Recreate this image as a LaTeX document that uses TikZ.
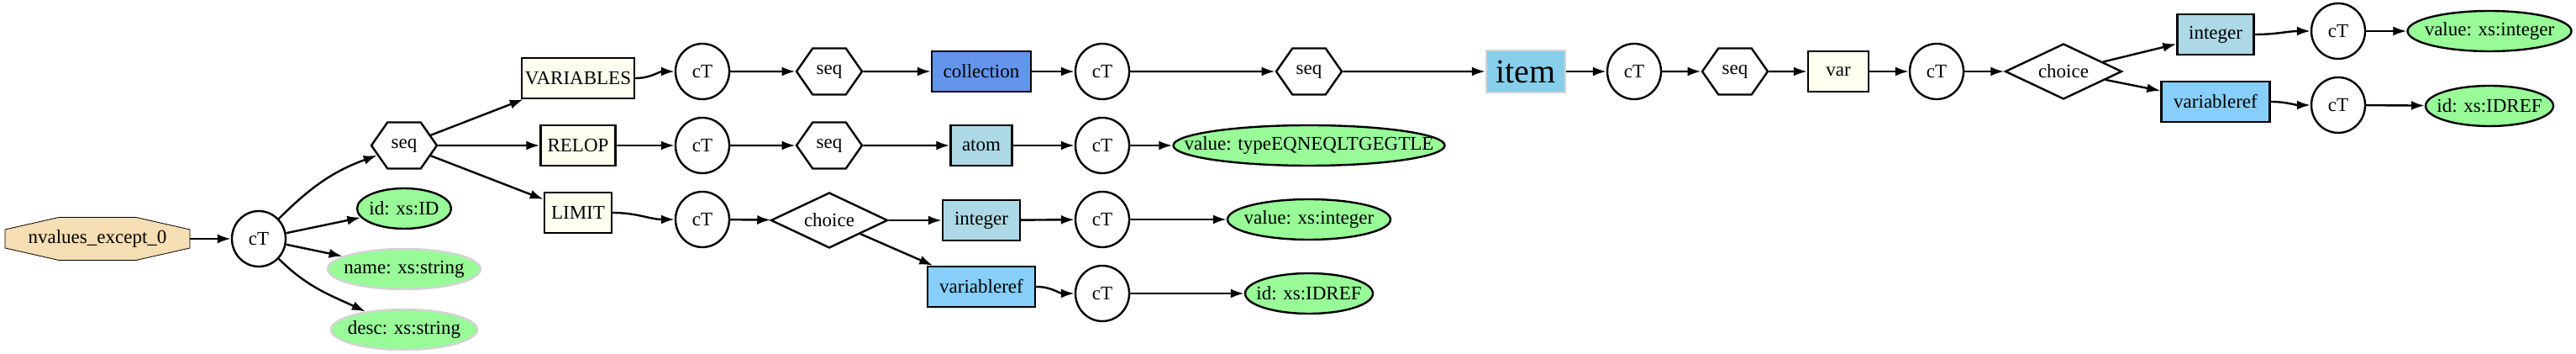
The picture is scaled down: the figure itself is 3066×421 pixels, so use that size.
\documentclass[tikz,border=0pt]{standalone}
\usepackage{fontspec}
\setmainfont{Liberation Serif}
\usetikzlibrary{shapes.geometric,shapes.symbols,arrows.meta,backgrounds}

\definecolor{wheat}{HTML}{F5DEB3}
\definecolor{ivory}{HTML}{FFFFF0}
\definecolor{cornflower}{HTML}{6495ED}
\definecolor{lblue}{HTML}{ADD8E6}
\definecolor{lskyblue}{HTML}{87CEFA}
\definecolor{skyblue}{HTML}{87CEEB}
\definecolor{palegreen}{HTML}{98FB98}
\definecolor{lgray}{HTML}{D3D3D3}

\begin{document}
\begin{tikzpicture}[x=0.5pt,y=0.5pt,line width=1.2pt,font=\fontsize{11.5}{13}\selectfont,
  ctype/.style={draw,ellipse,inner sep=0pt,minimum width=32pt,minimum height=33pt},
  seqhex/.style={draw,signal,signal to=east and west,signal pointer angle=110,inner sep=0pt,minimum width=39pt,minimum height=27.5pt},
  choicebox/.style={draw,diamond,aspect=2,inner sep=0pt,minimum width=69.5pt,minimum height=33pt},
  elem/.style={draw,rectangle,inner sep=0pt,minimum height=24pt,fill=ivory},
  attr/.style={draw,ellipse,inner sep=0pt,minimum height=24pt,fill=palegreen},
  optattr/.style={attr,draw=lgray},
  edge/.style={-{Latex[length=8pt,width=5.5pt]}}]
\useasboundingbox (0,0) rectangle (3066,421);

% root and its attributes
\node[draw=none,outer sep=0pt,minimum width=110pt,minimum height=25.5pt] (root) at (116,137) {nvalues\_except\_0};
\node[ctype] (ct0) at (308,137) {cT};
\node[seqhex] (seq0) at (481,248) {seq};
\node[attr,minimum width=56pt] (id0) at (481,173) {\makebox[0pt]{id: xs:ID}};
\node[optattr,minimum width=91pt] (name0) at (481,101) {\makebox[0pt]{name: xs:string}};
\node[optattr,minimum width=87pt] (desc0) at (481,29) {\makebox[0pt]{desc: xs:string}};

\begin{scope}[on background layer]
\draw[fill=wheat] ([yshift=5.5pt]root.west) -- ([xshift=-23pt]root.north) -- ([xshift=23pt]root.north) -- ([yshift=5.5pt]root.east)
  -- ([yshift=-5.5pt]root.east) -- ([xshift=23pt]root.south) -- ([xshift=-23pt]root.south) -- ([yshift=-5.5pt]root.west) -- cycle;
\end{scope}

% sequence children
\node[elem,minimum width=67pt] (vars) at (688,328) {VARIABLES};
\node[elem,minimum width=44.5pt] (relop) at (688,248) {RELOP};
\node[elem,minimum width=40pt] (limit) at (688,168) {LIMIT};
\foreach \r/\y in {a/336,b/248,c/160} {
  \node[ctype] (ct1\r) at (836,\y) {cT};
}
\node[seqhex] (seq1a) at (987,336) {seq};
\node[seqhex] (seq1b) at (987,248) {seq};
\node[choicebox] (ch1) at (987,159) {choice};
\node[elem,fill=cornflower,minimum width=59pt] (coll) at (1168,336) {collection};
\node[elem,fill=lblue,minimum width=36.5pt] (atom) at (1168,248) {atom};
\node[elem,fill=lblue,minimum width=46pt] (int1) at (1168,159) {integer};
\node[elem,fill=lskyblue,minimum width=64pt] (vref1) at (1168,80) {variableref};
\foreach \r/\y in {a/336,b/248,c/160,d/72} {
  \node[ctype] (ct2\r) at (1312,\y) {cT};
}
\node[seqhex] (seq2) at (1558,336) {seq};
\node[attr,minimum width=161.5pt] (val2b) at (1558,248) {\makebox[0pt]{value: typeEQNEQLTGEGTLE}};
\node[attr,minimum width=97pt] (val2c) at (1558,160) {\makebox[0pt]{value: xs:integer}};
\node[attr,minimum width=76pt] (id2d) at (1558,72) {\makebox[0pt]{id: xs:IDREF}};

% item branch
\node[elem,fill=skyblue,draw=lgray,minimum width=47pt,minimum height=25pt,font=\fontsize{20}{22}\selectfont] (item) at (1816,336) {item};
\node[ctype] (ct3) at (1945,336) {cT};
\node[seqhex] (seq3) at (2065,336) {seq};
\node[elem,minimum width=36pt] (var) at (2188,336) {var};
\node[ctype] (ct4) at (2305,336) {cT};
\node[choicebox] (ch4) at (2456,336) {choice};
\node[elem,fill=lblue,minimum width=45.5pt] (int4) at (2637,380) {integer};
\node[elem,fill=lskyblue,minimum width=64.5pt] (vref4) at (2637,300) {variableref};
\node[ctype] (ct5a) at (2783,384) {cT};
\node[ctype] (ct5b) at (2783,296) {cT};
\node[attr,minimum width=97.5pt] (val5) at (2963,384) {\makebox[0pt]{value: xs:integer}};
\node[attr,minimum width=76pt] (id5) at (2963,295) {\makebox[0pt]{id: xs:IDREF}};

\foreach \a/\b in {root/ct0, ct0/id0, ct0/name0, seq0/vars, seq0/relop, seq0/limit, relop/ct1b,
  ct1a/seq1a, seq1a/coll, coll/ct2a, ct2a/seq2, seq2/item, item/ct3, ct3/seq3, seq3/var, var/ct4,
  ct4/ch4, ch4/int4, ch4/vref4, ct5a/val5, ct5b/id5, ct1b/seq1b, seq1b/atom, atom/ct2b, ct2b/val2b,
  ct1c/ch1, ch1/int1, ch1/vref1, int1/ct2c, ct2c/val2c, ct2d/id2d} {
  \draw[edge] (\a) -- (\b);
}
\foreach \a/\b in {vars/ct1a, limit/ct1c, vref1/ct2d, int4/ct5a, vref4/ct5b} {
  \draw[edge] (\a) to[out=0,in=180] (\b);
}
\draw[edge] (ct0) to[out=45,in=200] (seq0);
\draw[edge] (ct0) to[out=-45,in=155] (desc0);
\end{tikzpicture}
\end{document}
